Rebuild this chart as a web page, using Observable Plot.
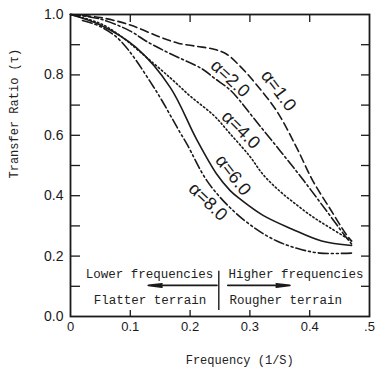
<!DOCTYPE html>
<html><head><meta charset="utf-8">
<script src="https://cdn.jsdelivr.net/npm/d3@7"></script>
<script src="https://cdn.jsdelivr.net/npm/@observablehq/plot@0.6"></script>
<style>body{margin:0;background:#fff}</style>
</head><body><div id="chart"></div>
<script>
// Series (frequency 1/S, transfer ratio τ)
const freqA1 = [0, 0.05, 0.10, 0.15, 0.18, 0.21, 0.24, 0.26, 0.283, 0.31, 0.345, 0.378, 0.405, 0.433, 0.46, 0.47];
const ratioA1 = [1.0, 0.99, 0.965, 0.925, 0.905, 0.895, 0.885, 0.87, 0.83, 0.77, 0.68, 0.56, 0.45, 0.36, 0.275, 0.25];
const freqA2 = [0, 0.05, 0.10, 0.128, 0.167, 0.22, 0.24, 0.267, 0.283, 0.305, 0.35, 0.39, 0.428, 0.458, 0.47];
const ratioA2 = [1.0, 0.985, 0.945, 0.91, 0.87, 0.82, 0.79, 0.75, 0.715, 0.66, 0.55, 0.45, 0.35, 0.27, 0.24];
const freqA4 = [0, 0.05, 0.083, 0.12, 0.167, 0.20, 0.24, 0.267, 0.30, 0.322, 0.35, 0.378, 0.405, 0.433, 0.47];
const ratioA4 = [1.0, 0.97, 0.93, 0.87, 0.79, 0.73, 0.665, 0.605, 0.53, 0.47, 0.415, 0.37, 0.33, 0.295, 0.25];
const freqA6 = [0, 0.05, 0.11, 0.167, 0.21, 0.245, 0.267, 0.283, 0.322, 0.37, 0.42, 0.47];
const ratioA6 = [1.0, 0.965, 0.89, 0.758, 0.59, 0.47, 0.417, 0.39, 0.335, 0.29, 0.25, 0.235];
const freqA8 = [0.02, 0.05, 0.083, 0.139, 0.183, 0.195, 0.228, 0.267, 0.31, 0.345, 0.38, 0.417, 0.47];
const ratioA8 = [0.98, 0.96, 0.914, 0.76, 0.61, 0.57, 0.45, 0.36, 0.29, 0.25, 0.225, 0.21, 0.21];

// Curve labels
const labelText = ["α=1.0", "α=2.0", "α=4.0", "α=6.0", "α=8.0"];
const labelFreq = [0.348, 0.267, 0.285, 0.272, 0.23];
const labelRatio = [0.748, 0.788, 0.618, 0.468, 0.38];
const labelAngle = [53, 43, 45, 52, 44];

// Axis ticks
const yTickValues = [0, 0.2, 0.4, 0.6, 0.8, 1.0];
const yTickLabels = ["0.0", "0.2", "0.4", "0.6", "0.8", "1.0"];
const yMinorTicks = [0.1, 0.2, 0.3, 0.4, 0.5, 0.6, 0.7, 0.8, 0.9];
const xTickValues = [0, 0.1, 0.2, 0.3, 0.4, 0.5];
const xTickLabels = ["0", "0.1", "0.2", "0.3", "0.4", ".5"];
const xMinorTicks = [0.1, 0.2, 0.3, 0.4];

// Annotations
const noteText = ["Lower frequencies", "Higher frequencies", "Flatter terrain", "Rougher terrain"];
const noteFreq = [0.132, 0.377, 0.133, 0.36];
const noteRatio = [0.142, 0.142, 0.056, 0.056];
const arrowFrom = [0.245, 0.263];
const arrowTo = [0.13, 0.367];
const arrowRatio = 0.103;
const dividerFreq = 0.248;
const dividerRange = [0.02, 0.15];

const series = [
  {f: freqA1, r: ratioA1, dash: "8,4"},
  {f: freqA2, r: ratioA2, dash: "10,3,2,3"},
  {f: freqA4, r: ratioA4, dash: "1.5,2.5"},
  {f: freqA6, r: ratioA6, dash: null},
  {f: freqA8, r: ratioA8, dash: "10,3,2,3,2,3"}
];

const ink = "#1a1a1a";
const mono = "'Liberation Mono', 'DejaVu Sans Mono', monospace";

const lineMarks = series.map(s => Plot.line(s.f.map((f, i) => ({f, r: s.r[i]})), {
  x: "f", y: "r", curve: "catmull-rom", stroke: ink, strokeWidth: 1.6,
  strokeDasharray: s.dash
}));

const labels = labelText.map((t, i) => ({t, f: labelFreq[i], r: labelRatio[i], a: labelAngle[i]}));

const chart = Plot.plot({
  width: 381, height: 369,
  marginLeft: 70, marginRight: 12, marginTop: 14, marginBottom: 53,
  style: {fontFamily: "'Liberation Sans', Arial, sans-serif", background: "#fff", color: ink},
  x: {domain: [0, 0.5]},
  y: {domain: [0, 1]},
  marks: [
    Plot.axisY(yMinorTicks, {anchor: "left", tickSize: -10, tickFormat: () => "", label: null, strokeWidth: 1.3}),
    Plot.axisY(yMinorTicks, {anchor: "right", tickSize: -9, tickFormat: () => "", label: null, strokeWidth: 1.3}),
    Plot.axisY(yTickValues, {anchor: "left", tickSize: 0, tickPadding: 7, fontSize: 14, tickFormat: (d) => yTickLabels[yTickValues.indexOf(d)], label: null}),
    Plot.axisX(xMinorTicks, {anchor: "bottom", tickSize: -6, tickFormat: () => "", label: null, strokeWidth: 1.3}),
    Plot.axisX(xMinorTicks, {anchor: "top", tickSize: -7, tickFormat: () => "", label: null, strokeWidth: 1.3}),
    Plot.axisX(xTickValues, {anchor: "bottom", tickSize: 0, tickPadding: 5, fontSize: 13, tickFormat: (d) => xTickLabels[xTickValues.indexOf(d)], label: null}),
    Plot.frame({stroke: ink, strokeWidth: 1.8}),
    ...lineMarks,
    Plot.text(labels, {x: "f", y: "r", text: "t", rotate: "a", fontSize: 18, fill: ink}),
    Plot.text(noteText, {x: (d, i) => noteFreq[i], y: (d, i) => noteRatio[i], text: d => d, fontFamily: mono, fontSize: 12.5, fill: "#222"}),
    Plot.arrow([0, 1], {x1: i => arrowFrom[i], x2: i => arrowTo[i], y1: arrowRatio, y2: arrowRatio, stroke: ink, strokeWidth: 1.6, headLength: 13, headAngle: 14}),
    Plot.ruleX([dividerFreq], {y1: dividerRange[0], y2: dividerRange[1], stroke: ink, strokeWidth: 1.4}),
    Plot.text(["Frequency (1/S)"], {x: 0.283, frameAnchor: "bottom", dy: 47, fontFamily: mono, fontSize: 12, fill: "#222"}),
    Plot.text(["Transfer Ratio (τ)"], {y: 0.457, frameAnchor: "left", dx: -56, rotate: -90, fontFamily: mono, fontSize: 12, fill: "#222"})
  ]
});
document.getElementById("chart").appendChild(chart);
</script>
</body></html>
